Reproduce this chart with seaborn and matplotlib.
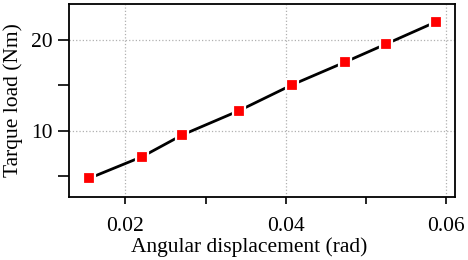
import numpy as np
import pandas as pd
import matplotlib
matplotlib.use("Agg")
import matplotlib.pyplot as plt
import seaborn as sns
from matplotlib.ticker import MultipleLocator, FuncFormatter

# Data
angle = [0.0155, 0.0221, 0.0271, 0.0342, 0.0408, 0.0474, 0.0525, 0.0587]
torque = [4.73, 7.12, 9.52, 12.21, 15.06, 17.57, 19.56, 22.0]

df = pd.DataFrame({"angle": angle, "torque": torque})

sns.set_style("ticks")
plt.rcParams["font.family"] = ["Liberation Serif", "DejaVu Serif"]
plt.rcParams["text.color"] = "black"
plt.rcParams["axes.labelcolor"] = "black"

fig, ax = plt.subplots(figsize=(4.68, 2.60), dpi=100)

# black connecting line, red square markers with white halo (gap look)
sns.lineplot(data=df, x="angle", y="torque", ax=ax, color="black", lw=2.0,
             marker="s", markersize=8.5, markerfacecolor="#ff0000",
             markeredgecolor="white", markeredgewidth=1.6)

ax.set_xlim(0.013, 0.0611)
ax.set_ylim(2.65, 24.0)
ax.xaxis.set_major_locator(MultipleLocator(0.02))
ax.xaxis.set_minor_locator(MultipleLocator(0.01))
ax.yaxis.set_major_locator(MultipleLocator(10))
ax.yaxis.set_minor_locator(MultipleLocator(5))
ax.xaxis.set_major_formatter(FuncFormatter(lambda v, p: f"{v:.2f}"))

ax.grid(True, which="major", linestyle=":", color="#b0b0b0", lw=0.9)
ax.set_axisbelow(True)

for s in ax.spines.values():
    s.set_visible(True)
    s.set_color("black")
    s.set_linewidth(1.3)
ax.tick_params(which="both", direction="out", width=1.2, colors="black",
               labelsize=15.5)
ax.tick_params(axis="x", which="both", length=5, pad=9)
ax.tick_params(axis="y", which="both", length=8, pad=4)

ax.set_xlabel("Angular displacement (rad)", fontsize=15.5, color="black")
ax.set_ylabel("Tarque load (Nm)", fontsize=15.5, labelpad=6, color="black")
ax.xaxis.set_label_coords(0.466, -0.21)

fig.subplots_adjust(left=0.148, right=0.972, top=0.985, bottom=0.242)
fig.savefig("out.png", dpi=100)
